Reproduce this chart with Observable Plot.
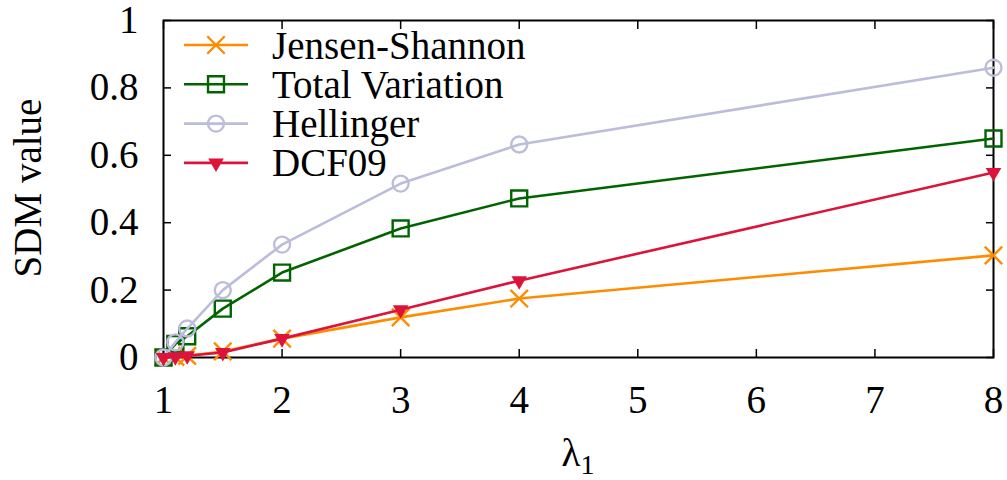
<!DOCTYPE html>
<html>
<head>
<meta charset="utf-8">
<script src="https://cdn.jsdelivr.net/npm/d3@7"></script>
<script src="https://cdn.jsdelivr.net/npm/@observablehq/plot@0.6"></script>
<style>
  html, body { margin: 0; padding: 0; background: #fff; }
</style>
</head>
<body>
<div id="chart"></div>
<script>
const lambdas = [1, 1.1, 1.2, 1.5, 2, 3, 4, 8];
const jensenShannon = [0, 0.002, 0.005, 0.018, 0.056, 0.119, 0.175, 0.303];
const totalVariation = [0, 0.04, 0.063, 0.145, 0.252, 0.383, 0.472, 0.65];
const hellinger = [0, 0.045, 0.086, 0.2, 0.335, 0.516, 0.632, 0.86];
const dcf09 = [0, 0.002, 0.005, 0.015, 0.056, 0.142, 0.228, 0.549];

const seriesNames = ["Jensen-Shannon", "Total Variation", "Hellinger", "DCF09"];
const seriesValues = [jensenShannon, totalVariation, hellinger, dcf09];
const seriesColors = ["#ff8c00", "#006400", "#bcbcdc", "#dc143c"];
const seriesSymbols = ["times", "square", "circle", "triangle"];
const xTicks = [1, 2, 3, 4, 5, 6, 7, 8];
const yTicks = [0, 0.2, 0.4, 0.6, 0.8, 1];

const FONT = "'Liberation Serif', 'Times New Roman', serif";
const FS = 39;
const symR = {times: 8, square: 9, circle: 8, triangle: 5.8};

const rows = [];
seriesNames.forEach((name, s) => {
  lambdas.forEach((x, i) => rows.push({series: name, s, x, y: seriesValues[s][i]}));
});

const marks = [];
seriesNames.forEach((name, s) => {
  const data = rows.filter(d => d.s === s);
  const sym = seriesSymbols[s];
  marks.push(Plot.line(data, {x: "x", y: "y", stroke: seriesColors[s], strokeWidth: 2.6}));
  if (sym === "triangle") {
    marks.push(Plot.dot(data, {x: "x", y: "y", symbol: "triangle", fill: seriesColors[s], r: symR[sym], rotate: 180}));
  } else {
    marks.push(Plot.dot(data, {x: "x", y: "y", symbol: sym, stroke: seriesColors[s], fill: "none", strokeWidth: 2.4, r: symR[sym]}));
  }
});

const blank = () => "";

const chart = Plot.plot({
  width: 1007,
  height: 480,
  marginLeft: 163,
  marginRight: 14,
  marginTop: 20,
  marginBottom: 123,
  style: {fontFamily: FONT, fontSize: FS + "px", background: "#fff", color: "#000"},
  x: {domain: [1, 8]},
  y: {domain: [0, 1]},
  marks: [
    Plot.axisX({ticks: xTicks, tickSize: 0, tickPadding: 28, tickFormat: d => String(d), label: null, anchor: "bottom", fontSize: FS}),
    Plot.axisX({ticks: xTicks, tickSize: -8, tickFormat: blank, label: null, anchor: "bottom", strokeWidth: 1.5}),
    Plot.axisX({ticks: xTicks, tickSize: -8, tickFormat: blank, label: null, anchor: "top", strokeWidth: 1.5}),
    Plot.axisY({ticks: yTicks, tickSize: 0, tickPadding: 25, tickFormat: d => String(d), label: null, anchor: "left", fontSize: FS}),
    Plot.axisY({ticks: yTicks, tickSize: -8, tickFormat: blank, label: null, anchor: "left", strokeWidth: 1.5}),
    Plot.axisY({ticks: yTicks, tickSize: -8, tickFormat: blank, label: null, anchor: "right", strokeWidth: 1.5}),
    Plot.frame({stroke: "#000", strokeWidth: 2}),
    ...marks
  ]
});

document.getElementById("chart").appendChild(chart);

const svg = d3.select(chart);
svg.style("overflow", "visible");

// axis titles
svg.append("text")
  .attr("transform", "translate(27,188) rotate(-90)")
  .attr("text-anchor", "middle")
  .attr("dominant-baseline", "central")
  .style("font-family", FONT).attr("font-size", FS)
  .text("SDM value");

const xl = svg.append("text")
  .attr("x", 578).attr("y", 466)
  .attr("text-anchor", "middle")
  .style("font-family", FONT).attr("font-size", FS);
xl.append("tspan").text("λ");
xl.append("tspan").attr("font-size", FS * 0.72).attr("dy", 8).text("1");

// legend
const symMap = {times: d3.symbolTimes, square: d3.symbolSquare, circle: d3.symbolCircle, triangle: d3.symbolTriangle};
const lg = svg.append("g").style("font-family", FONT).attr("font-size", FS).attr("text-anchor", "start");
seriesNames.forEach((name, s) => {
  const y = 45 + 39.3 * s;
  lg.append("line").attr("x1", 184).attr("x2", 248).attr("y1", y).attr("y2", y)
    .attr("stroke", seriesColors[s]).attr("stroke-width", 2.6);
  const sym = seriesSymbols[s];
  const r = symR[sym];
  const p = lg.append("path")
    .attr("d", d3.symbol(symMap[sym], Math.PI * r * r)())
    .attr("transform", `translate(216,${y})` + (sym === "triangle" ? " rotate(180)" : ""));
  if (sym === "triangle") p.attr("fill", seriesColors[s]);
  else p.attr("fill", "none").attr("stroke", seriesColors[s]).attr("stroke-width", 2.4);
  lg.append("text").attr("x", 272).attr("y", y).attr("dominant-baseline", "central").text(name);
});
</script>
</body>
</html>
